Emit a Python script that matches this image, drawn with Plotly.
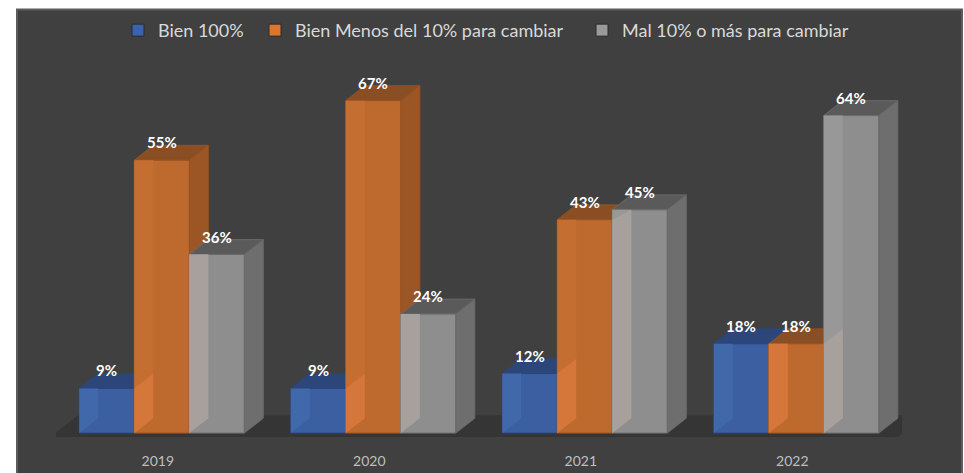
import plotly.graph_objects as go

# ---- data -------------------------------------------------------------
years = ["2019", "2020", "2021", "2022"]
series_names = ["Bien 100%", "Bien Menos del 10% para cambiar", "Mal 10% o más para cambiar"]
bien_100 = [9, 9, 12, 18]
bien_menos_10 = [55, 67, 43, 18]
mal_10_mas = [36, 24, 45, 64]
series_values = [bien_100, bien_menos_10, mal_10_mas]

# ---- styling ----------------------------------------------------------
FONT = "Lato, 'Liberation Sans', sans-serif"
PANEL = "#404040"
STYLES = [
    dict(front="#3b5fa0", side="#2f4c82", top="#2c4679", strip="#4268ac", lit="#4268ac",
         edge="#2a477c", legend="#3a63ad"),
    dict(front="#be6a2e", side="#9c5626", top="#8a4e24", strip="#c56e32", lit="#d5773a",
         edge="#9a521f", legend="#d9772f"),
    dict(front="#8e8e8e", side="#6e6e6e", top="#5a5a5a", strip="#989898", lit="#a8a09c",
         edge="#6a6a6a", legend="#9a9a9a"),
]

BAR_W = 0.26      # bar width in category units
DX = 0.09         # oblique depth, horizontal (category units)
DY = 3.0          # oblique depth, vertical (percentage units)

ML, MR, MT, MB = 56, 62, 58, 25
PLOT_W = 964 - ML - MR

fig = go.Figure()


def poly(xs, ys, color, edge=None):
    """Filled polygon trace; lists may hold several shapes split by None."""
    fig.add_trace(go.Scatter(
        x=xs, y=ys, mode="lines", fill="toself", fillcolor=color,
        line=dict(color=edge or color, width=1 if edge else 0),
        hoverinfo="skip", showlegend=False,
    ))


# floor under the bars
fx0, fx1 = -0.527, 3.478
poly([fx0, fx1, fx1 + 0.132, fx0 + 0.132, fx0],
     [-0.8, -0.8, 3.6, 3.6, -0.8], "#353535")

# bars: right face, top face, front face and the see-through inner strip
for s, vals in enumerate(series_values):
    st = STYLES[s]
    side_x, side_y, top_x, top_y = [], [], [], []
    fr_x, fr_y, sp_x, sp_y, lit_x, lit_y = [], [], [], [], [], []
    for g, v in enumerate(vals):
        L = g + (s - 1) * BAR_W - BAR_W / 2
        R = L + BAR_W
        side_x += [R, R + DX, R + DX, R, R, None]
        side_y += [0, DY, v + DY, v, 0, None]
        top_x += [L, R, R + DX, L + DX, L, None]
        top_y += [v, v, v + DY, v + DY, v, None]
        fr_x += [L, R, R, L, L, None]
        fr_y += [0, 0, v, v, 0, None]
        sp_x += [L, L + DX, L + DX, L, L, None]
        sp_y += [0, DY, v, v, 0, None]
        if s > 0:
            p = series_values[s - 1][g]
            lit_x += [L, L + DX, L + DX, L, L, None]
            lit_y += [0, DY, min(v, p + DY), min(v, p), 0, None]
    poly(side_x, side_y, st["side"], st["edge"])
    poly(top_x, top_y, st["top"], st["edge"])
    poly(fr_x, fr_y, st["front"], st["edge"])
    poly(sp_x, sp_y, st["strip"])
    if lit_x:
        poly(lit_x, lit_y, st["lit"])

# legend entries, one legend box per series so each sits at its own spot
legend_ids = ["legend", "legend2", "legend3"]
legend_px = [118, 255, 582]
for s, name in enumerate(series_names):
    fig.add_trace(go.Bar(
        x=[None], y=[None], name=name, legend=legend_ids[s],
        marker=dict(color=STYLES[s]["legend"], line=dict(color="#2a2a2a", width=1)),
    ))

# value labels above each bar
for s, vals in enumerate(series_values):
    for g, v in enumerate(vals):
        fig.add_annotation(
            x=g + (s - 1) * BAR_W, y=v, text=f"<b>{v}%</b>", showarrow=False,
            yshift=18, font=dict(family=FONT, size=15, color="#ffffff"),
        )

# dark panel behind the chart
fig.add_shape(type="rect", xref="paper", yref="paper",
              x0=-0.0461, x1=1.0709, y0=-0.1, y1=1.1333,
              fillcolor=PANEL, line=dict(color="#5c5c5c", width=2), layer="below")

legend_style = dict(orientation="h", xanchor="left", y=1.079, yanchor="middle",
                    font=dict(family=FONT, size=18, color="#d9d9d9"),
                    bgcolor="rgba(0,0,0,0)", itemclick=False, itemdoubleclick=False)

fig.update_layout(
    width=964, height=473,
    margin=dict(l=ML, r=MR, t=MT, b=MB),
    paper_bgcolor="#ffffff", plot_bgcolor="rgba(0,0,0,0)",
    showlegend=True,
    legend=dict(x=(legend_px[0] - ML) / PLOT_W, **legend_style),
    legend2=dict(x=(legend_px[1] - ML) / PLOT_W, **legend_style),
    legend3=dict(x=(legend_px[2] - ML) / PLOT_W, **legend_style),
    xaxis=dict(range=[-0.5, 3.5], tickvals=list(range(len(years))), ticktext=years,
               showgrid=False, zeroline=False, showline=False, ticks="",
               tickfont=dict(family=FONT, size=14, color="#bfbfbf"),
               ticklabelshift=-4, ticklabelstandoff=3, automargin=False,
               fixedrange=True),
    yaxis=dict(range=[-3, 75], showgrid=False, zeroline=False, showline=False,
               showticklabels=False, automargin=False, fixedrange=True),
)

fig.write_html("out.html")
